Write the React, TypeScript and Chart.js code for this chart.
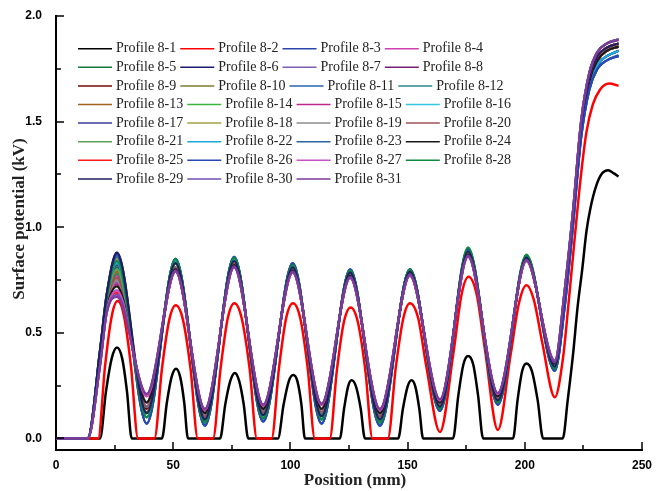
import React, { useEffect, useRef } from 'react';
import { Chart, registerables } from 'chart.js';

Chart.register(...registerables);

// ---------- tick values ----------
const X_TICKS = [0, 50, 100, 150, 200, 250];
const X_MINOR = [25, 75, 125, 175, 225];
const Y_TICKS = [0, 0.5, 1.0, 1.5, 2.0];
const Y_MINOR = [0.25, 0.75, 1.25, 1.75];

const LABELS = [
  'Profile 8-1', 'Profile 8-2', 'Profile 8-3', 'Profile 8-4', 'Profile 8-5', 'Profile 8-6',
  'Profile 8-7', 'Profile 8-8', 'Profile 8-9', 'Profile 8-10', 'Profile 8-11', 'Profile 8-12',
  'Profile 8-13', 'Profile 8-14', 'Profile 8-15', 'Profile 8-16', 'Profile 8-17', 'Profile 8-18',
  'Profile 8-19', 'Profile 8-20', 'Profile 8-21', 'Profile 8-22', 'Profile 8-23', 'Profile 8-24',
  'Profile 8-25', 'Profile 8-26', 'Profile 8-27', 'Profile 8-28', 'Profile 8-29', 'Profile 8-30',
  'Profile 8-31',
];

const COLORS = [
  '#000000', '#FF0000', '#2B45A8', '#D040B0', '#127A3A', '#1A1A6E',
  '#7B5DB5', '#7A1F78', '#7A0A0A', '#7E7A30', '#2466B0', '#2A8A8A',
  '#A0641E', '#3CB43C', '#C02888', '#30C8E0', '#3A3A9A', '#A0A040',
  '#8C8C8C', '#A0505A', '#5AA05A', '#1EA8D8', '#2A64A0', '#181818',
  '#FF1A1A', '#2848B8', '#C850C8', '#0E8A3C', '#1E1E60', '#7050B0',
  '#7E3A9A',
];

// ---------- Profile 8-1 (black) ----------
const BLACK_X = [0, 18.8, 21.3, 23.8, 26, 28.2, 30.3, 32.3,
  45.2, 47.3, 49.3, 51.2, 53, 54.7, 56.3,
  70, 72.2, 74.3, 76.3, 78.2, 80.1, 82,
  94.7, 97.1, 99.3, 101.2, 103, 104.7, 106.2,
  121.1, 122.9, 124.6, 126.1, 128, 130, 131.8,
  146, 148, 150, 151.7, 153.3, 155, 156.6,
  169.4, 171.6, 173.8, 175.8, 178, 180.1, 182.2,
  195, 196.9, 198.9, 200.7, 203, 205.5, 207.8,
  216.2, 218.3, 220.6, 222.5, 224.5, 226.3, 228, 230.6, 233, 235.5, 238, 240];
const BLACK_Y = [0, 0, 0.22, 0.38, 0.43, 0.38, 0.22, 0,
  0, 0.17, 0.29, 0.33, 0.29, 0.17, 0,
  0, 0.16, 0.27, 0.31, 0.27, 0.16, 0,
  0, 0.16, 0.27, 0.30, 0.27, 0.16, 0,
  0, 0.14, 0.245, 0.275, 0.245, 0.14, 0,
  0, 0.14, 0.245, 0.275, 0.245, 0.14, 0,
  0, 0.2, 0.35, 0.39, 0.35, 0.2, 0,
  0, 0.18, 0.32, 0.355, 0.32, 0.18, 0,
  0, 0.18, 0.40, 0.62, 0.80, 0.98, 1.09, 1.2, 1.255, 1.27, 1.255, 1.24];

// ---------- Profile 8-2 (red) ----------
const RED_X = [0, 18, 20.9, 23.8, 26.3, 29, 32, 35,
  42, 45.2, 48.3, 51.1, 54.2, 57.4, 60.5,
  67, 70.2, 73.3, 76.1, 79.2, 82.6, 85.7,
  92, 95.1, 98.2, 101.1, 104.2, 107.4, 110.4,
  116.8, 119.8, 122.8, 125.7, 128.8, 132, 135,
  141.6, 144.9, 148.2, 151, 154.5, 158, 163.8,
  169.5, 173, 176, 179.5, 183, 188.5,
  194, 197.5, 200.7, 204, 207.5, 212.8,
  216.3, 218.5, 221.3, 224, 226.3, 229, 232, 236, 240];
const RED_Y = [0, 0, 0.34, 0.58, 0.65, 0.58, 0.34, 0,
  0, 0.33, 0.56, 0.63, 0.56, 0.33, 0,
  0, 0.33, 0.57, 0.64, 0.57, 0.33, 0,
  0, 0.33, 0.57, 0.64, 0.57, 0.33, 0,
  0, 0.32, 0.55, 0.62, 0.55, 0.32, 0,
  0, 0.33, 0.57, 0.64, 0.57, 0.34, 0.03,
  0.40, 0.68, 0.765, 0.68, 0.42, 0.04,
  0.40, 0.64, 0.725, 0.65, 0.45, 0.195,
  0.38, 0.62, 0.95, 1.25, 1.45, 1.58, 1.65, 1.68, 1.67];

// ---------- Profiles 8-3 .. 8-31 (shared positions) ----------
const BAND_X = [0, 13.5, 18.8, 21.6, 26, 38.7, 51, 63.5, 76, 88.4, 101, 113.3, 125.5, 138.2,
  151, 163.8, 175.8, 188.5, 200.7, 212.8, 217, 220.5, 224, 227.5, 231, 235, 240];

const P8_3 = [0, 0, 0.41, 0.66, 0.84, 0.07, 0.85, 0.06, 0.86, 0.08, 0.83, 0.07, 0.80, 0.06, 0.80, 0.13, 0.89, 0.16, 0.86, 0.32, 0.62, 1.00, 1.42, 1.65, 1.75, 1.79, 1.81];
const P8_4 = [0, 0, 0.38, 0.63, 0.77, 0.15, 0.81, 0.105, 0.84, 0.125, 0.80, 0.125, 0.775, 0.12, 0.78, 0.16, 0.875, 0.19, 0.85, 0.35, 0.66, 1.04, 1.46, 1.69, 1.79, 1.835, 1.855];
const P8_5 = [0, 0, 0.39, 0.65, 0.81, 0.12, 0.83, 0.09, 0.84, 0.11, 0.81, 0.105, 0.785, 0.09, 0.79, 0.15, 0.89, 0.18, 0.855, 0.34, 0.68, 1.05, 1.48, 1.71, 1.81, 1.85, 1.87];
const P8_6 = [0, 0, 0.42, 0.68, 0.88, 0.10, 0.84, 0.075, 0.85, 0.095, 0.82, 0.09, 0.79, 0.075, 0.795, 0.14, 0.89, 0.17, 0.86, 0.33, 0.64, 1.02, 1.44, 1.67, 1.77, 1.81, 1.835];
const P8_7 = [0, 0, 0.37, 0.61, 0.74, 0.17, 0.80, 0.12, 0.82, 0.14, 0.795, 0.14, 0.77, 0.12, 0.775, 0.17, 0.87, 0.20, 0.845, 0.355, 0.68, 1.05, 1.48, 1.71, 1.81, 1.85, 1.87];
const P8_8 = [0, 0, 0.35, 0.60, 0.70, 0.20, 0.79, 0.135, 0.81, 0.155, 0.785, 0.16, 0.76, 0.135, 0.77, 0.18, 0.86, 0.21, 0.84, 0.365, 0.70, 1.07, 1.50, 1.73, 1.83, 1.87, 1.89];
const P8_9 = [0, 0, 0.38, 0.63, 0.78, 0.14, 0.80, 0.105, 0.83, 0.125, 0.81, 0.125, 0.775, 0.105, 0.78, 0.165, 0.875, 0.19, 0.85, 0.35, 0.66, 1.04, 1.46, 1.69, 1.79, 1.835, 1.855];
const P8_10 = [0, 0, 0.39, 0.65, 0.80, 0.12, 0.83, 0.09, 0.84, 0.115, 0.81, 0.11, 0.785, 0.09, 0.79, 0.15, 0.88, 0.18, 0.855, 0.34, 0.66, 1.04, 1.46, 1.69, 1.79, 1.835, 1.855];
const P8_11 = [0, 0, 0.41, 0.66, 0.85, 0.10, 0.84, 0.08, 0.85, 0.095, 0.82, 0.09, 0.79, 0.075, 0.795, 0.14, 0.89, 0.17, 0.855, 0.33, 0.64, 1.02, 1.44, 1.67, 1.77, 1.81, 1.835];
const P8_12 = [0, 0, 0.38, 0.63, 0.78, 0.15, 0.81, 0.10, 0.83, 0.13, 0.80, 0.12, 0.775, 0.105, 0.78, 0.16, 0.875, 0.19, 0.85, 0.345, 0.68, 1.05, 1.48, 1.71, 1.81, 1.85, 1.87];
const P8_13 = [0, 0, 0.38, 0.63, 0.79, 0.125, 0.83, 0.09, 0.84, 0.11, 0.81, 0.105, 0.78, 0.095, 0.79, 0.15, 0.88, 0.185, 0.855, 0.345, 0.66, 1.04, 1.46, 1.69, 1.79, 1.835, 1.855];
const P8_14 = [0, 0, 0.40, 0.66, 0.83, 0.10, 0.845, 0.075, 0.855, 0.095, 0.82, 0.09, 0.79, 0.075, 0.80, 0.14, 0.90, 0.17, 0.865, 0.33, 0.68, 1.05, 1.48, 1.71, 1.81, 1.85, 1.87];
const P8_15 = [0, 0, 0.37, 0.61, 0.73, 0.17, 0.80, 0.12, 0.82, 0.14, 0.795, 0.14, 0.77, 0.12, 0.775, 0.17, 0.87, 0.20, 0.845, 0.355, 0.66, 1.04, 1.46, 1.69, 1.79, 1.835, 1.855];
const P8_16 = [0, 0, 0.37, 0.62, 0.75, 0.15, 0.81, 0.105, 0.83, 0.125, 0.80, 0.125, 0.775, 0.105, 0.78, 0.16, 0.875, 0.19, 0.85, 0.35, 0.64, 1.02, 1.44, 1.67, 1.77, 1.81, 1.835];
const P8_17 = [0, 0, 0.39, 0.65, 0.82, 0.12, 0.83, 0.09, 0.84, 0.11, 0.81, 0.105, 0.785, 0.09, 0.79, 0.15, 0.885, 0.18, 0.855, 0.34, 0.64, 1.02, 1.44, 1.67, 1.77, 1.81, 1.835];
const P8_18 = [0, 0, 0.40, 0.66, 0.85, 0.10, 0.84, 0.075, 0.85, 0.095, 0.82, 0.09, 0.79, 0.075, 0.795, 0.14, 0.895, 0.17, 0.86, 0.33, 0.66, 1.04, 1.46, 1.69, 1.79, 1.835, 1.855];
const P8_19 = [0, 0, 0.37, 0.61, 0.75, 0.17, 0.80, 0.12, 0.82, 0.145, 0.795, 0.14, 0.77, 0.12, 0.775, 0.17, 0.87, 0.20, 0.845, 0.355, 0.68, 1.05, 1.48, 1.71, 1.81, 1.85, 1.87];
const P8_20 = [0, 0, 0.38, 0.63, 0.76, 0.15, 0.81, 0.105, 0.83, 0.125, 0.80, 0.125, 0.775, 0.105, 0.78, 0.16, 0.875, 0.19, 0.85, 0.35, 0.66, 1.04, 1.46, 1.69, 1.79, 1.835, 1.855];
const P8_21 = [0, 0, 0.39, 0.65, 0.80, 0.12, 0.83, 0.09, 0.845, 0.11, 0.81, 0.105, 0.785, 0.09, 0.79, 0.15, 0.885, 0.18, 0.855, 0.34, 0.68, 1.05, 1.48, 1.71, 1.81, 1.85, 1.87];
const P8_22 = [0, 0, 0.40, 0.66, 0.83, 0.10, 0.84, 0.075, 0.85, 0.095, 0.82, 0.09, 0.79, 0.075, 0.795, 0.14, 0.89, 0.17, 0.86, 0.33, 0.64, 1.02, 1.44, 1.67, 1.77, 1.81, 1.835];
const P8_23 = [0, 0, 0.42, 0.67, 0.86, 0.07, 0.85, 0.06, 0.86, 0.08, 0.83, 0.07, 0.80, 0.06, 0.80, 0.13, 0.90, 0.16, 0.865, 0.32, 0.62, 1.00, 1.42, 1.65, 1.75, 1.79, 1.815];
const P8_24 = [0, 0, 0.37, 0.61, 0.72, 0.17, 0.80, 0.12, 0.82, 0.14, 0.795, 0.14, 0.77, 0.12, 0.775, 0.17, 0.87, 0.20, 0.845, 0.355, 0.66, 1.04, 1.46, 1.69, 1.79, 1.835, 1.855];
const P8_25 = [0, 0, 0.35, 0.60, 0.69, 0.20, 0.79, 0.135, 0.81, 0.155, 0.785, 0.16, 0.76, 0.135, 0.77, 0.18, 0.86, 0.21, 0.84, 0.365, 0.68, 1.05, 1.48, 1.71, 1.81, 1.85, 1.87];
const P8_26 = [0, 0, 0.42, 0.68, 0.87, 0.07, 0.85, 0.06, 0.86, 0.08, 0.83, 0.07, 0.80, 0.06, 0.80, 0.13, 0.895, 0.16, 0.86, 0.32, 0.62, 1.00, 1.42, 1.65, 1.75, 1.79, 1.81];
const P8_27 = [0, 0, 0.35, 0.60, 0.70, 0.20, 0.79, 0.135, 0.81, 0.155, 0.785, 0.16, 0.76, 0.135, 0.77, 0.18, 0.86, 0.21, 0.84, 0.365, 0.70, 1.07, 1.50, 1.73, 1.83, 1.87, 1.89];
const P8_28 = [0, 0, 0.40, 0.66, 0.84, 0.10, 0.85, 0.075, 0.855, 0.095, 0.82, 0.09, 0.795, 0.075, 0.80, 0.14, 0.905, 0.17, 0.87, 0.33, 0.70, 1.07, 1.50, 1.73, 1.83, 1.87, 1.89];
const P8_29 = [0, 0, 0.42, 0.68, 0.88, 0.12, 0.83, 0.09, 0.84, 0.11, 0.81, 0.105, 0.785, 0.09, 0.79, 0.15, 0.885, 0.18, 0.855, 0.34, 0.68, 1.05, 1.48, 1.71, 1.81, 1.85, 1.87];
const P8_30 = [0, 0, 0.35, 0.59, 0.68, 0.21, 0.79, 0.14, 0.81, 0.16, 0.785, 0.165, 0.76, 0.14, 0.77, 0.185, 0.86, 0.215, 0.84, 0.37, 0.70, 1.07, 1.50, 1.73, 1.83, 1.87, 1.89];
const P8_31 = [0, 0, 0.34, 0.59, 0.67, 0.21, 0.795, 0.14, 0.815, 0.16, 0.79, 0.165, 0.765, 0.14, 0.775, 0.185, 0.865, 0.215, 0.845, 0.36, 0.70, 1.07, 1.50, 1.73, 1.83, 1.87, 1.885];

const BAND_SERIES = [P8_3, P8_4, P8_5, P8_6, P8_7, P8_8, P8_9, P8_10, P8_11, P8_12, P8_13,
  P8_14, P8_15, P8_16, P8_17, P8_18, P8_19, P8_20, P8_21, P8_22, P8_23, P8_24, P8_25,
  P8_26, P8_27, P8_28, P8_29, P8_30, P8_31];

const X_TITLE = 'Position (mm)';
const Y_TITLE = 'Surface potential (kV)';

const decorPlugin = {
  id: 'decor',
  afterDraw(chart: any) {
    const { ctx, scales } = chart;
    const xs = scales.x;
    const ys = scales.y;
    const x0 = xs.left;
    const yb = ys.bottom;
    ctx.save();
    // inward ticks
    ctx.strokeStyle = '#000';
    ctx.lineWidth = 1.5;
    const tick = (x1: number, y1: number, x2: number, y2: number) => {
      ctx.beginPath();
      ctx.moveTo(x1, y1);
      ctx.lineTo(x2, y2);
      ctx.stroke();
    };
    X_TICKS.forEach((v) => { const p = Math.round(xs.getPixelForValue(v)); tick(p, yb, p, yb - 8); });
    X_MINOR.forEach((v) => { const p = Math.round(xs.getPixelForValue(v)); tick(p, yb, p, yb - 5); });
    Y_TICKS.forEach((v) => { const p = Math.round(ys.getPixelForValue(v)); tick(x0, p, x0 + 8, p); });
    Y_MINOR.forEach((v) => { const p = Math.round(ys.getPixelForValue(v)); tick(x0, p, x0 + 5, p); });

    // legend: 4 columns, flowing widths
    ctx.font = '14px "Liberation Serif", "Times New Roman", serif';
    ctx.textBaseline = 'middle';
    ctx.textAlign = 'left';
    const cols = 4;
    const rows = Math.ceil(LABELS.length / cols);
    for (let r = 0; r < rows; r++) {
      const yy = 48.7 + r * 18.6;
      let xx = 78;
      for (let c = 0; c < cols; c++) {
        const i = r * cols + c;
        if (i >= LABELS.length) break;
        ctx.strokeStyle = COLORS[i];
        ctx.lineWidth = 1.5;
        ctx.beginPath();
        ctx.moveTo(xx, yy);
        ctx.lineTo(xx + 34, yy);
        ctx.stroke();
        ctx.fillStyle = '#222';
        ctx.fillText(LABELS[i], xx + 38, yy);
        xx += 38 + ctx.measureText(LABELS[i]).width + 4;
      }
    }

    // axis titles
    ctx.fillStyle = '#222';
    ctx.font = 'bold 17px "Liberation Serif", "Times New Roman", serif';
    ctx.textAlign = 'center';
    ctx.textBaseline = 'middle';
    ctx.fillText(X_TITLE, 355, 481);
    ctx.translate(20, 219);
    ctx.rotate(-Math.PI / 2);
    ctx.fillText(Y_TITLE, 0, 0);
    ctx.restore();
  },
};

export default function App() {
  const ref = useRef<HTMLCanvasElement>(null);
  useEffect(() => {
    if (!ref.current) return;
    const tickFont = { family: '"Liberation Sans", Arial, sans-serif', weight: 'bold' as const, size: 12 };
    const datasets: any[] = [
      { label: LABELS[0], data: BLACK_X.map((x, i) => ({ x, y: BLACK_Y[i] })), borderColor: COLORS[0], borderWidth: 2.5 },
      { label: LABELS[1], data: RED_X.map((x, i) => ({ x, y: RED_Y[i] })), borderColor: COLORS[1], borderWidth: 2.5 },
      ...BAND_SERIES.map((ys, k) => ({
        label: LABELS[k + 2],
        data: BAND_X.map((x, i) => ({ x, y: ys[i] })),
        borderColor: COLORS[k + 2],
        borderWidth: 2.2,
      })),
    ].map((d, i) => ({
      ...d,
      pointRadius: 0,
      fill: false,
      cubicInterpolationMode: 'monotone',
      order: 100 - i,
    }));

    const chart = new Chart(ref.current, {
      type: 'line',
      data: { datasets },
      options: {
        animation: false,
        responsive: false,
        events: [],
        layout: { padding: { top: 16, right: 15, left: 0, bottom: 0 } },
        plugins: { legend: { display: false }, tooltip: { enabled: false } },
        scales: {
          x: {
            type: 'linear',
            min: 0,
            max: 250,
            afterBuildTicks: (s: any) => { s.ticks = X_TICKS.map((v) => ({ value: v })); },
            afterFit: (s: any) => {
              s.height = 41;
              s.paddingLeft = 0; s.paddingRight = 0; s.paddingTop = 0; s.paddingBottom = 0;
            },
            grid: { display: false, drawTicks: false },
            border: { display: true, color: '#000', width: 2 },
            ticks: { padding: 8, color: '#000', font: tickFont, maxRotation: 0, autoSkip: false },
          },
          y: {
            type: 'linear',
            min: -0.055,
            max: 2.0,
            afterBuildTicks: (s: any) => { s.ticks = Y_TICKS.map((v) => ({ value: v })); },
            afterFit: (s: any) => {
              s.width = 56;
              s.paddingLeft = 0; s.paddingRight = 0; s.paddingTop = 0; s.paddingBottom = 0;
            },
            grid: { display: false, drawTicks: false },
            border: { display: true, color: '#000', width: 2 },
            ticks: { padding: 14, color: '#000', font: tickFont, callback: (v: any) => Number(v).toFixed(1) },
          },
        },
      },
      plugins: [decorPlugin],
    });
    return () => chart.destroy();
  }, []);
  return (
    <div style={{ position: 'absolute', left: 0, top: 0, width: 657, height: 491, background: '#fff' }}>
      <canvas ref={ref} width={657} height={491} style={{ display: 'block' }} />
    </div>
  );
}
